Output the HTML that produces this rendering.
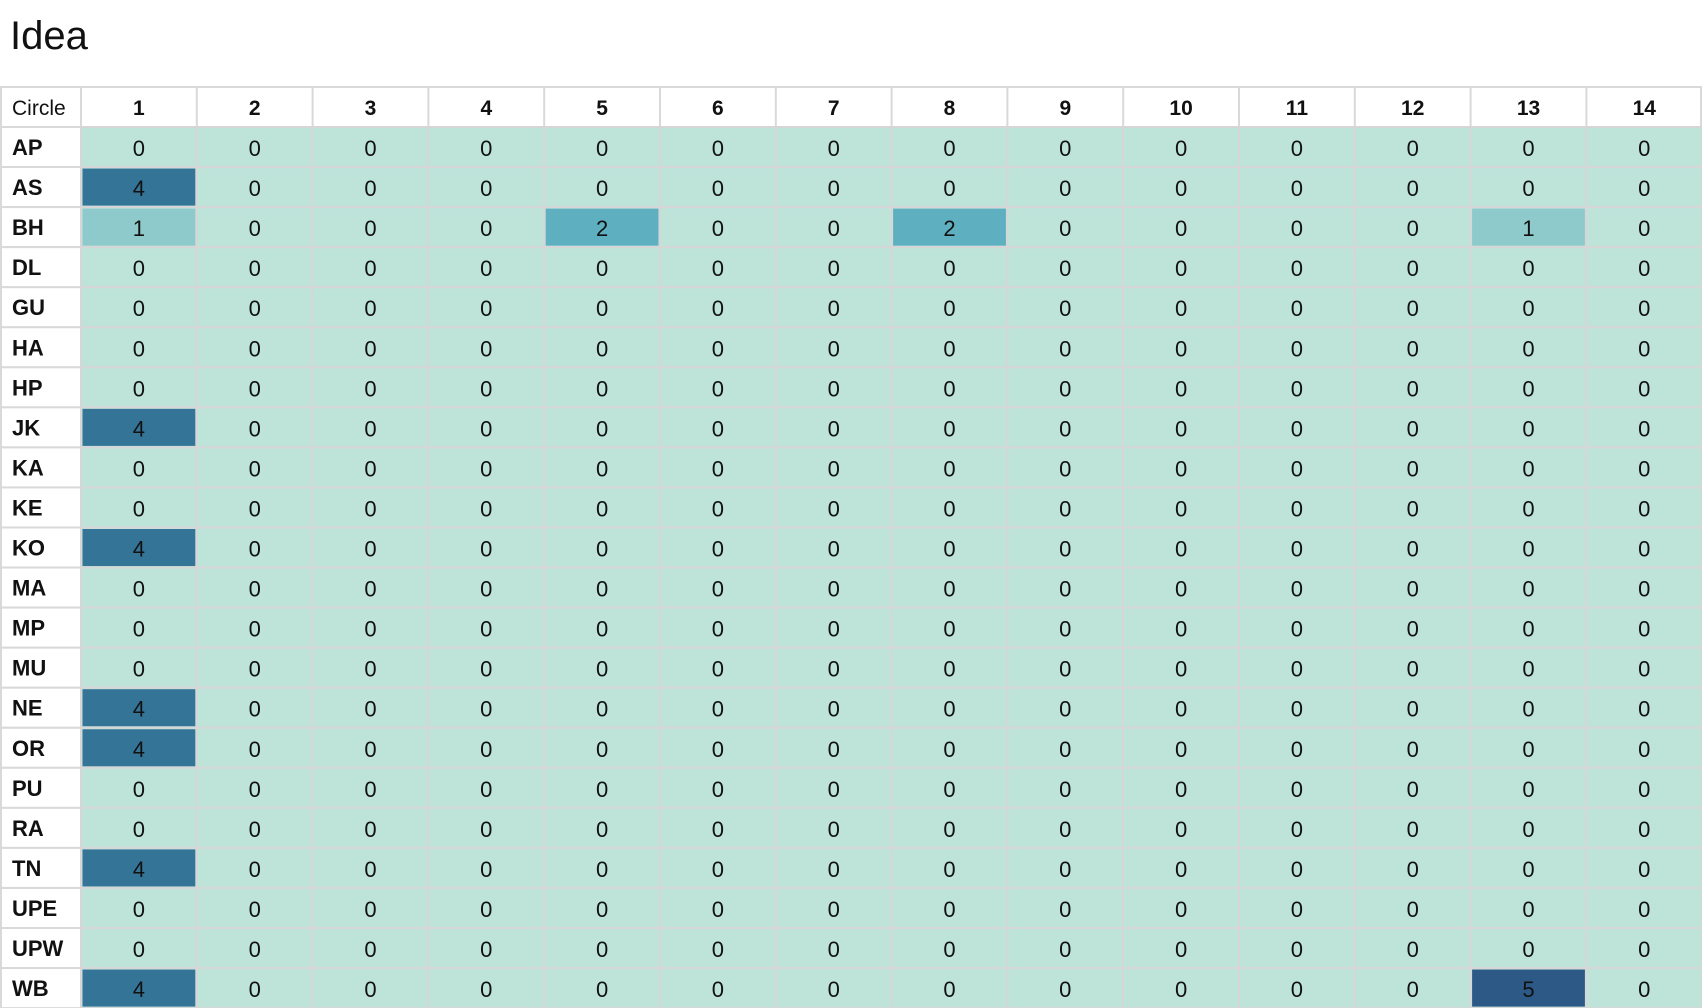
<!DOCTYPE html>
<html><head><meta charset="utf-8"><style>
body{margin:0;width:1702px;height:1008px;background:#fff;overflow:hidden;font-family:"Liberation Sans",sans-serif;}
#title{position:absolute;left:10px;top:14px;font-size:40px;color:#111;}
svg{position:absolute;left:0;top:0;}
</style></head><body>
<div id="title">Idea</div>
<svg id="chart" width="1702" height="1008"></svg>
<script>
const columns=[1,2,3,4,5,6,7,8,9,10,11,12,13,14];
const circles=["AP","AS","BH","DL","GU","HA","HP","JK","KA","KE","KO","MA","MP","MU","NE","OR","PU","RA","TN","UPE","UPW","WB"];
const values=[
[0,0,0,0,0,0,0,0,0,0,0,0,0,0],
[4,0,0,0,0,0,0,0,0,0,0,0,0,0],
[1,0,0,0,2,0,0,2,0,0,0,0,1,0],
[0,0,0,0,0,0,0,0,0,0,0,0,0,0],
[0,0,0,0,0,0,0,0,0,0,0,0,0,0],
[0,0,0,0,0,0,0,0,0,0,0,0,0,0],
[0,0,0,0,0,0,0,0,0,0,0,0,0,0],
[4,0,0,0,0,0,0,0,0,0,0,0,0,0],
[0,0,0,0,0,0,0,0,0,0,0,0,0,0],
[0,0,0,0,0,0,0,0,0,0,0,0,0,0],
[4,0,0,0,0,0,0,0,0,0,0,0,0,0],
[0,0,0,0,0,0,0,0,0,0,0,0,0,0],
[0,0,0,0,0,0,0,0,0,0,0,0,0,0],
[0,0,0,0,0,0,0,0,0,0,0,0,0,0],
[4,0,0,0,0,0,0,0,0,0,0,0,0,0],
[4,0,0,0,0,0,0,0,0,0,0,0,0,0],
[0,0,0,0,0,0,0,0,0,0,0,0,0,0],
[0,0,0,0,0,0,0,0,0,0,0,0,0,0],
[4,0,0,0,0,0,0,0,0,0,0,0,0,0],
[0,0,0,0,0,0,0,0,0,0,0,0,0,0],
[0,0,0,0,0,0,0,0,0,0,0,0,0,0],
[4,0,0,0,0,0,0,0,0,0,0,0,5,0]
];
const NS="http://www.w3.org/2000/svg";
const svg=document.getElementById('chart');
const X0=81,CW=115.8,Y0=87,HH=40,RH=40.05;
const xPos=i=>X0+i*CW;
const yPos=r=>Y0+HH+r*RH;
function color(v){const c=["#bee4da","#8ecacb","#5eb0c1","#4a93b0","#347597","#2d5987"];return c[Math.max(0,Math.min(5,v))];}
function mk(t,a){const e=document.createElementNS(NS,t);for(const k in a)e.setAttribute(k,a[k]);svg.appendChild(e);return e;}
const hb=mk('rect',{x:1,y:Y0,width:1700,height:HH,fill:'#fff',stroke:'#d9d9d9','stroke-width':2});


const ch=mk('text',{x:12,y:Y0+28,'font-size':21,fill:'#111'});ch.textContent='Circle';


columns.forEach((c,i)=>{
 mk('line',{x1:xPos(i),x2:xPos(i),y1:Y0,y2:Y0+HH,stroke:'#d9d9d9','stroke-width':2});
 const t=mk('text',{x:xPos(i)+CW/2,y:Y0+28,'font-size':21,'font-weight':'bold','text-anchor':'middle',fill:'#111'});
 t.textContent=c;
 
 
});
circles.forEach((r,ri)=>{
 const y=yPos(ri);
 mk('rect',{x:1,y:y,width:X0-1,height:RH,fill:'#fff',stroke:'#d9d9d9','stroke-width':2});
 const lt=mk('text',{x:12,y:y+28,'font-size':22,'font-weight':'bold',fill:'#111'});
 lt.textContent=r;
 
 
 columns.forEach((c,ci)=>{
  const v=values[ri][ci];
  mk('rect',{x:xPos(ci),y:y,width:CW,height:RH,fill:'#bee4da',stroke:'#d6d6d6','stroke-width':2});
  const cell=mk('rect',{x:xPos(ci)+1.5,y:y+1.5,width:CW-3,height:RH-3,fill:color(v)});
  
  
  const t=mk('text',{x:xPos(ci)+CW/2,y:y+29,'font-size':22,'text-anchor':'middle',fill:'#111'});
  t.textContent=v;
  
  
 });
});
</script>
</body></html>
